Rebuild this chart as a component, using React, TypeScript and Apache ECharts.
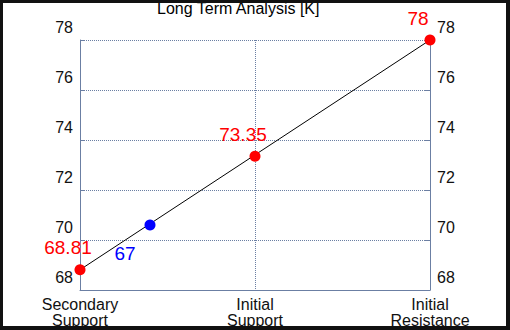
import React, { useEffect, useRef } from "react";
import * as echarts from "echarts";

const title = "Long Term Analysis [K]";
const categories = ["Secondary\nSupport", "Initial\nSupport", "Initial\nResistance"];
const categoryPos = [0, 1, 2];
const yTicks = [68, 70, 72, 74, 76, 78];
const redPoints: [number, number, string][] = [
  [0, 68.81, "68.81"],
  [1, 73.35, "73.35"],
  [2, 78, "78"],
];
const bluePoint: [number, number, string] = [0.4, 70.6, "67"];
const trendLine: [number, number][] = [
  [0, 68.81],
  [2, 78],
];

const FONT = "'Liberation Sans', Arial, sans-serif";
const AXIS_COLOR = "#6b7fa3";

export default function App() {
  const ref = useRef<HTMLDivElement>(null);
  useEffect(() => {
    document.body.style.margin = "0";
    if (!ref.current) return;
    const chart = echarts.init(ref.current, null, { renderer: "svg" });
    const yAxisCommon = {
      type: "value" as const,
      min: yTicks[0],
      max: yTicks[yTicks.length - 1],
      interval: 2,
      axisLine: { show: true, lineStyle: { color: AXIS_COLOR, width: 1 } },
      axisTick: { show: true, inside: true, length: 5, lineStyle: { color: AXIS_COLOR } },
      axisLabel: {
        color: "#111",
        fontSize: 16,
        fontFamily: FONT,
        margin: 7,
        verticalAlign: "bottom" as const,
        padding: [0, 0, 5, 0],
        showMinLabel: true,
        showMaxLabel: true,
      },
    };
    chart.setOption({
      animation: false,
      backgroundColor: "#fff",
      title: {
        text: title,
        left: 157,
        top: 0,
        padding: [0, 0, 0, 0],
        textStyle: { fontSize: 16, fontWeight: "normal", color: "#000", fontFamily: FONT },
      },
      grid: { left: 80, right: 80, top: 40, bottom: 40, containLabel: false },
      xAxis: {
        type: "value",
        min: 0,
        max: 2,
        interval: 1,
        axisLine: { show: true, onZero: false, lineStyle: { color: AXIS_COLOR } },
        axisTick: { show: false },
        splitLine: { show: true, lineStyle: { color: AXIS_COLOR, type: [1, 1] as any, width: 1 } },
        axisLabel: {
          color: "#111",
          fontSize: 16,
          fontFamily: FONT,
          margin: 6,
          lineHeight: 16,
          align: "center",
          formatter: (v: number) => {
            const i = categoryPos.indexOf(Math.round(v));
            return i >= 0 ? categories[i] : "";
          },
        },
      },
      yAxis: [
        {
          ...yAxisCommon,
          position: "left",
          splitLine: { show: true, lineStyle: { color: AXIS_COLOR, type: [1, 1] as any, width: 1 } },
        },
        {
          ...yAxisCommon,
          position: "right",
          splitLine: { show: false },
        },
      ],
      series: [
        {
          type: "line",
          data: trendLine,
          symbol: "none",
          lineStyle: { color: "#000", width: 1 },
          z: 1,
          silent: true,
        },
        {
          type: "scatter",
          data: redPoints.map((p) => ({ value: [p[0], p[1]], name: p[2] })),
          symbolSize: 11,
          itemStyle: { color: "#ff0000", opacity: 1 },
          z: 3,
          label: {
            show: true,
            formatter: (p: any) => p.name,
            position: "top",
            color: "#ff0000",
            fontSize: 19,
            fontFamily: FONT,
          },
          labelLayout: { dx: -12, dy: -2 },
        },
        {
          type: "scatter",
          data: [{ value: [bluePoint[0], bluePoint[1]], name: bluePoint[2] }],
          symbolSize: 11,
          itemStyle: { color: "#0000ff", opacity: 1 },
          z: 3,
          label: {
            show: true,
            formatter: (p: any) => p.name,
            position: "bottom",
            offset: [-25, 8],
            color: "#0000ff",
            fontSize: 19,
            fontFamily: FONT,
          },
        },
      ],
    });
    return () => chart.dispose();
  }, []);
  return (
    <div style={{ position: "relative", width: 510, height: 330 }}>
      <div ref={ref} style={{ width: 510, height: 330 }} />
      <div
        style={{
          position: "absolute",
          left: 0,
          top: 0,
          width: 510,
          height: 330,
          boxSizing: "border-box",
          borderStyle: "solid",
          borderColor: "#111",
          borderWidth: "3px 4px 4px 3px",
          pointerEvents: "none",
        }}
      />
    </div>
  );
}
